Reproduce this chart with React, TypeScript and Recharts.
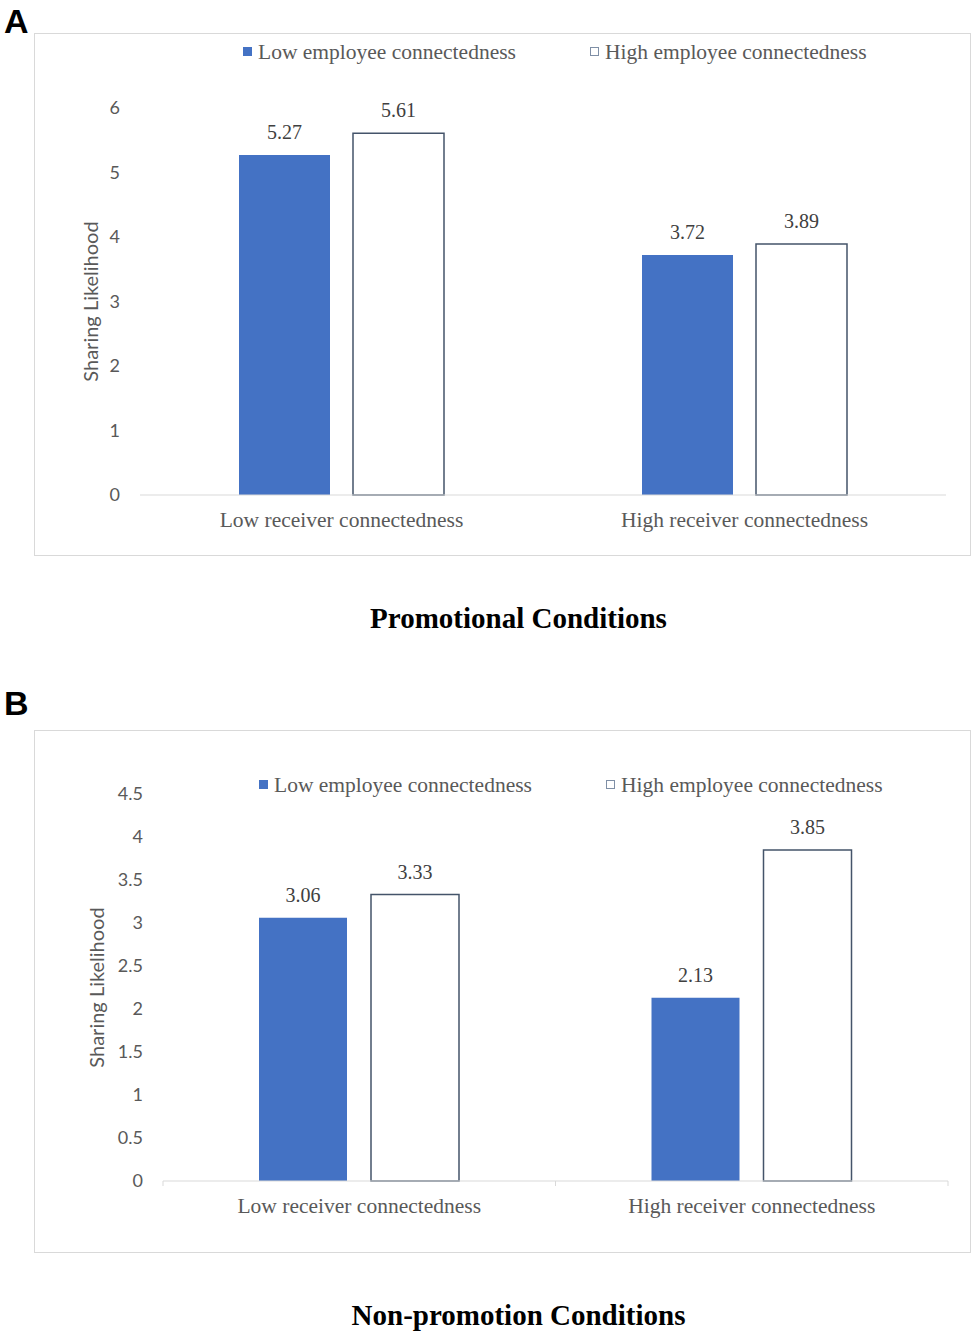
import { BarChart, Bar, XAxis, YAxis, Legend, LabelList } from "recharts";

// categories and series
const categories = ["Low receiver connectedness", "High receiver connectedness"];
const seriesNames = ["Low employee connectedness", "High employee connectedness"];

// Panel A - promotional conditions
const promoLow = [5.27, 3.72];
const promoHigh = [5.61, 3.89];
const promoTicks = [0, 1, 2, 3, 4, 5, 6];

// Panel B - non-promotion conditions
const nonPromoLow = [3.06, 2.13];
const nonPromoHigh = [3.33, 3.85];
const nonPromoTicks = [0, 0.5, 1, 1.5, 2, 2.5, 3, 3.5, 4, 4.5];

const SERIF = '"Liberation Serif", "Times New Roman", serif';
const SANS = 'Lato, "Noto Sans", sans-serif';
const GRAY = "#595959";
const BLUE = "#4472c4";
const OUTLINE = "#44546a";
const W = 935;
const H = 521;

const toRows = (low: number[], high: number[]) =>
  categories.map((name, i) => ({ name, low: low[i], high: high[i] }));

type PanelProps = {
  letter: string;
  letterTop: number;
  title: string;
  top: number;
  data: { name: string; low: number; high: number }[];
  ticks: number[];
  margin: { top: number; right: number; bottom: number; left: number };
  yWidth: number;
  labelOffset: number;
  barSize: number;
  barGap: number;
  legendY: number;
  legendX: [number, number, number, number];
  edgeTicks: boolean;
};

function Panel(p: PanelProps) {
  const band = (W - p.margin.left - p.margin.right - p.yWidth) / p.data.length;

  const renderLegend = () => (
    <div
      style={{
        position: "relative",
        height: 40,
        fontFamily: SERIF,
        fontSize: 21.5,
        color: GRAY,
      }}
    >
      {seriesNames.map((n, i) => (
        <div key={n}>
          <div
            style={{
              position: "absolute",
              left: p.legendX[i * 2],
              top: p.legendY - 5,
              width: 9,
              height: 9,
              boxSizing: "border-box",
              background: i === 0 ? BLUE : "#fff",
              border: i === 0 ? "none" : "1px solid #7f8fa6",
            }}
          />
          <div
            style={{
              position: "absolute",
              left: p.legendX[i * 2 + 1],
              top: p.legendY - 13,
              height: 26,
              lineHeight: "26px",
              whiteSpace: "nowrap",
            }}
          >
            {n}
          </div>
        </div>
      ))}
    </div>
  );

  const EdgeTick = (props: any) => {
    const { x, y, payload, index } = props;
    return (
      <g>
        <line x1={x - band / 2} x2={x - band / 2} y1={y} y2={y + 5} stroke="#d9d9d9" />
        {index === p.data.length - 1 && (
          <line x1={x + band / 2} x2={x + band / 2} y1={y} y2={y + 5} stroke="#d9d9d9" />
        )}
        <text
          x={x}
          y={y + 17}
          dy="0.71em"
          textAnchor="middle"
          fill={GRAY}
          fontSize={21.5}
          fontFamily={SERIF}
        >
          {payload.value}
        </text>
      </g>
    );
  };

  return (
    <>
      <div
        style={{
          position: "absolute",
          left: 4,
          top: p.letterTop,
          fontFamily: '"Liberation Sans", Arial, sans-serif',
          fontWeight: "bold",
          fontSize: 34,
          lineHeight: "34px",
        }}
      >
        {p.letter}
      </div>
      <div
        style={{
          position: "absolute",
          left: 34,
          top: p.top,
          width: W + 2,
          height: H + 2,
          boxSizing: "border-box",
          border: "1px solid #d9d9d9",
        }}
      >
        <BarChart
          width={W}
          height={H}
          data={p.data}
          margin={p.margin}
          barGap={p.barGap}
        >
          <XAxis
            dataKey="name"
            interval={0}
            height={40}
            axisLine={{ stroke: "#d9d9d9" }}
            tickLine={false}
            tickSize={0}
            tickMargin={p.edgeTicks ? 0 : 17}
            tick={
              p.edgeTicks ? (
                <EdgeTick />
              ) : (
                { fill: GRAY, fontSize: 21.5, fontFamily: SERIF }
              )
            }
          />
          <YAxis
            width={p.yWidth}
            domain={[p.ticks[0], p.ticks[p.ticks.length - 1]]}
            ticks={p.ticks}
            interval={0}
            axisLine={false}
            tickLine={false}
            tickSize={0}
            tickMargin={20}
            tick={{ fill: GRAY, fontSize: 18, fontFamily: SANS }}
            label={{
              value: "Sharing  Likelihood",
              angle: -90,
              position: "insideLeft",
              offset: p.labelOffset,
              fill: GRAY,
              fontSize: 20,
              fontFamily: SANS,
              style: { textAnchor: "middle", whiteSpace: "pre" },
            }}
          />
          <Legend
            layout="horizontal"
            verticalAlign="middle"
            align="center"
            wrapperStyle={{ top: 0, left: 0, width: W, height: 40 }}
            content={renderLegend}
          />
          <Bar
            dataKey="low"
            name={seriesNames[0]}
            fill={BLUE}
            barSize={p.barSize}
            isAnimationActive={false}
          >
            <LabelList
              dataKey="low"
              position="top"
              offset={16}
              fill="#404040"
              fontSize={20}
              fontFamily={SERIF}
              formatter={(v: any) => Number(v).toFixed(2)}
            />
          </Bar>
          <Bar
            dataKey="high"
            name={seriesNames[1]}
            fill="#ffffff"
            stroke={OUTLINE}
            strokeWidth={1.5}
            barSize={p.barSize}
            isAnimationActive={false}
          >
            <LabelList
              dataKey="high"
              position="top"
              offset={16}
              fill="#404040"
              fontSize={20}
              fontFamily={SERIF}
              formatter={(v: any) => Number(v).toFixed(2)}
            />
          </Bar>
        </BarChart>
      </div>
      <div
        style={{
          position: "absolute",
          left: 0,
          width: 1037,
          top: p.top + H + 50,
          textAlign: "center",
          fontFamily: SERIF,
          fontWeight: "bold",
          fontSize: 29,
          lineHeight: "29px",
          color: "#000",
        }}
      >
        {p.title}
      </div>
    </>
  );
}

export default function App() {
  return (
    <div
      style={{
        position: "absolute",
        left: 0,
        top: 0,
        width: 975,
        height: 1333,
        background: "#fff",
      }}
    >
      <Panel
        letter="A"
        letterTop={4}
        title="Promotional Conditions"
        top={33}
        data={toRows(promoLow, promoHigh)}
        ticks={promoTicks}
        margin={{ top: 74, right: 24, bottom: 20, left: 0 }}
        yWidth={105}
        labelOffset={56}
        barSize={91}
        barGap={23}
        legendY={18}
        legendX={[208, 223, 555, 570]}
        edgeTicks={false}
      />
      <Panel
        letter="B"
        letterTop={686}
        title="Non-promotion Conditions"
        top={730}
        data={toRows(nonPromoLow, nonPromoHigh)}
        ticks={nonPromoTicks}
        margin={{ top: 63, right: 22, bottom: 31, left: 0 }}
        yWidth={128}
        labelOffset={62}
        barSize={88}
        barGap={24}
        legendY={54}
        legendX={[224, 239, 571, 586]}
        edgeTicks={true}
      />
    </div>
  );
}
